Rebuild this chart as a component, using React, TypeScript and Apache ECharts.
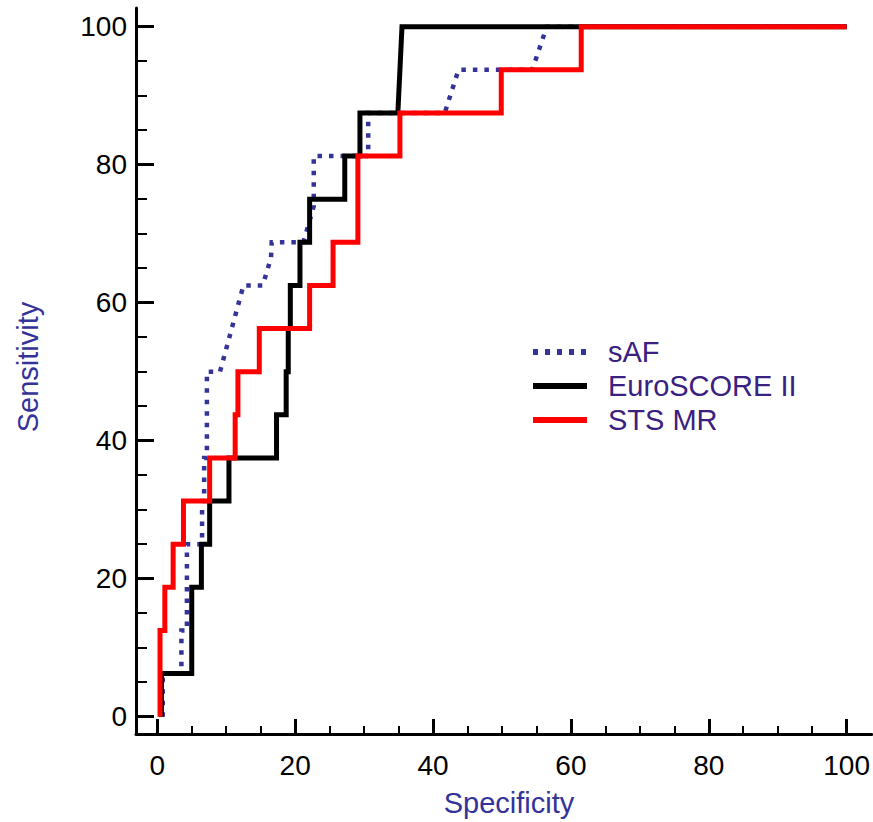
import React, { useEffect, useRef } from "react";
import * as echarts from "echarts";

// Axis ticks
const majorTicks = [0, 20, 40, 60, 80, 100];
const minorTicks = [5, 10, 15, 25, 30, 35, 45, 50, 55, 65, 70, 75, 85, 90, 95];

// Legend / series names
const seriesNames = ["sAF", "EuroSCORE II", "STS MR"];

// sAF (dotted) – specificity (x) and sensitivity (y) vertices
const safX = [0.8, 0.8, 3.5, 3.5, 4.3, 4.3, 6.5, 6.5, 6.8, 6.8, 7.2, 7.2, 9.1, 12.5, 15.3, 16.5, 16.6, 21.2, 22.7, 22.7, 30.6, 30.6, 41.7, 43.7, 54.4, 56.5, 100];
const safY = [0, 6.25, 6.25, 12.5, 12.5, 25, 25, 31.25, 31.25, 37.5, 37.5, 50, 50, 62.5, 62.5, 66.5, 68.75, 68.75, 74, 81.25, 81.25, 87.5, 87.5, 93.75, 93.75, 100, 100];

// EuroSCORE II (black)
const euroX = [0.6, 0.6, 5.0, 5.0, 6.4, 6.4, 7.6, 7.6, 10.4, 10.4, 17.3, 17.3, 18.7, 18.7, 19.0, 19.0, 19.3, 19.3, 20.7, 20.7, 22.1, 22.1, 27.2, 27.2, 29.4, 29.4, 34.9, 35.5, 100];
const euroY = [0, 6.25, 6.25, 18.75, 18.75, 25, 25, 31.25, 31.25, 37.5, 37.5, 43.75, 43.75, 50, 50, 56.25, 56.25, 62.5, 62.5, 68.75, 68.75, 75, 75, 81.25, 81.25, 87.5, 87.5, 100, 100];

// STS MR (red)
const stsX = [0.4, 0.4, 1.1, 1.1, 2.3, 2.3, 3.8, 3.8, 7.6, 7.6, 11.3, 11.3, 11.7, 11.7, 14.8, 14.8, 22.1, 22.1, 25.5, 25.5, 29.1, 29.1, 35.2, 35.2, 49.9, 49.9, 61.5, 61.5, 100];
const stsY = [0, 12.5, 12.5, 18.75, 18.75, 25, 25, 31.25, 31.25, 37.5, 37.5, 43.75, 43.75, 50, 50, 56.25, 56.25, 62.5, 62.5, 68.75, 68.75, 81.25, 81.25, 87.5, 87.5, 93.75, 93.75, 100, 100];

const seriesColors = ["#333399", "#000000", "#ff0000"];

const pairs = (xs: number[], ys: number[]) => xs.map((x, i) => [x, ys[i]]);

const FONT = "'Liberation Sans', Arial, Helvetica, sans-serif";
const TITLE_COLOR = "#333399";
const LEGEND_COLOR = "#3a2080";

export default function App() {
  const ref = useRef<HTMLDivElement | null>(null);

  useEffect(() => {
    if (!ref.current) return;
    const chart = echarts.init(ref.current, undefined, { renderer: "svg" });

    const xMin = -3.085;
    const xMax = 103.66;
    const yMin = -2.5;
    const yMax = 102.7;

    const legendY = [352, 386, 420];
    const legendGraphics: any[] = [];
    seriesNames.forEach((name, i) => {
      legendGraphics.push({
        type: "line",
        shape: { x1: 533, y1: legendY[i], x2: 587, y2: legendY[i] },
        style: {
          stroke: seriesColors[i],
          lineWidth: 6,
          lineDash: i === 0 ? [5, 7] : null,
          lineCap: "butt",
        },
      });
      legendGraphics.push({
        type: "text",
        x: 608,
        y: legendY[i],
        style: {
          text: name,
          fill: LEGEND_COLOR,
          font: `29px ${FONT}`,
          textAlign: "left",
          textVerticalAlign: "middle",
        },
      });
    });

    const option: any = {
      animation: false,
      backgroundColor: "#ffffff",
      grid: { left: 136, right: 0, top: 8, bottom: 88, containLabel: false },
      xAxis: [
        {
          type: "value",
          min: xMin,
          max: xMax,
          position: "bottom",
          axisLine: { show: true, onZero: false, lineStyle: { color: "#000", width: 3 } },
          axisTick: { show: true, inside: true, length: 15, customValues: majorTicks, lineStyle: { color: "#000", width: 3 } },
          axisLabel: { show: true, customValues: majorTicks, fontSize: 28, fontFamily: FONT, color: "#000", margin: 17 },
          splitLine: { show: false },
        },
        {
          type: "value",
          min: xMin,
          max: xMax,
          position: "bottom",
          axisLine: { show: false, onZero: false },
          axisTick: { show: true, inside: true, length: 8, customValues: minorTicks, lineStyle: { color: "#000", width: 2 } },
          axisLabel: { show: false },
          splitLine: { show: false },
        },
      ],
      yAxis: [
        {
          type: "value",
          min: yMin,
          max: yMax,
          position: "left",
          axisLine: { show: true, onZero: false, lineStyle: { color: "#000", width: 3 } },
          axisTick: { show: true, inside: true, length: 18, customValues: majorTicks, lineStyle: { color: "#000", width: 3 } },
          axisLabel: { show: true, customValues: majorTicks, fontSize: 28, fontFamily: FONT, color: "#000", margin: 9 },
          splitLine: { show: false },
        },
        {
          type: "value",
          min: yMin,
          max: yMax,
          position: "left",
          axisLine: { show: false, onZero: false },
          axisTick: { show: true, inside: true, length: 11, customValues: minorTicks, lineStyle: { color: "#000", width: 2 } },
          axisLabel: { show: false },
          splitLine: { show: false },
        },
      ],
      series: [
        {
          name: seriesNames[0],
          type: "line",
          data: pairs(safX, safY),
          symbol: "none",
          xAxisIndex: 0,
          yAxisIndex: 0,
          z: 2,
          lineStyle: { color: seriesColors[0], width: 4.5, type: [4.5, 7], cap: "butt", join: "miter" },
        },
        {
          name: seriesNames[1],
          type: "line",
          data: pairs(euroX, euroY),
          symbol: "none",
          xAxisIndex: 0,
          yAxisIndex: 0,
          z: 3,
          lineStyle: { color: seriesColors[1], width: 5, cap: "butt", join: "miter" },
        },
        {
          name: seriesNames[2],
          type: "line",
          data: pairs(stsX, stsY),
          symbol: "none",
          xAxisIndex: 0,
          yAxisIndex: 0,
          z: 4,
          lineStyle: { color: seriesColors[2], width: 5, cap: "butt", join: "miter" },
        },
      ],
      graphic: [
        {
          type: "text",
          x: 509,
          y: 803,
          style: {
            text: "Specificity",
            fill: TITLE_COLOR,
            font: `29px ${FONT}`,
            textAlign: "center",
            textVerticalAlign: "middle",
          },
        },
        {
          type: "text",
          x: 28,
          y: 367,
          rotation: Math.PI / 2,
          style: {
            text: "Sensitivity",
            fill: TITLE_COLOR,
            font: `29px ${FONT}`,
            textAlign: "center",
            textVerticalAlign: "middle",
          },
        },
        ...legendGraphics,
      ],
    };

    chart.setOption(option);
    return () => {
      chart.dispose();
    };
  }, []);

  return (
    <div
      ref={ref}
      style={{ position: "fixed", left: 0, top: 0, width: 873, height: 822, background: "#fff" }}
    />
  );
}
